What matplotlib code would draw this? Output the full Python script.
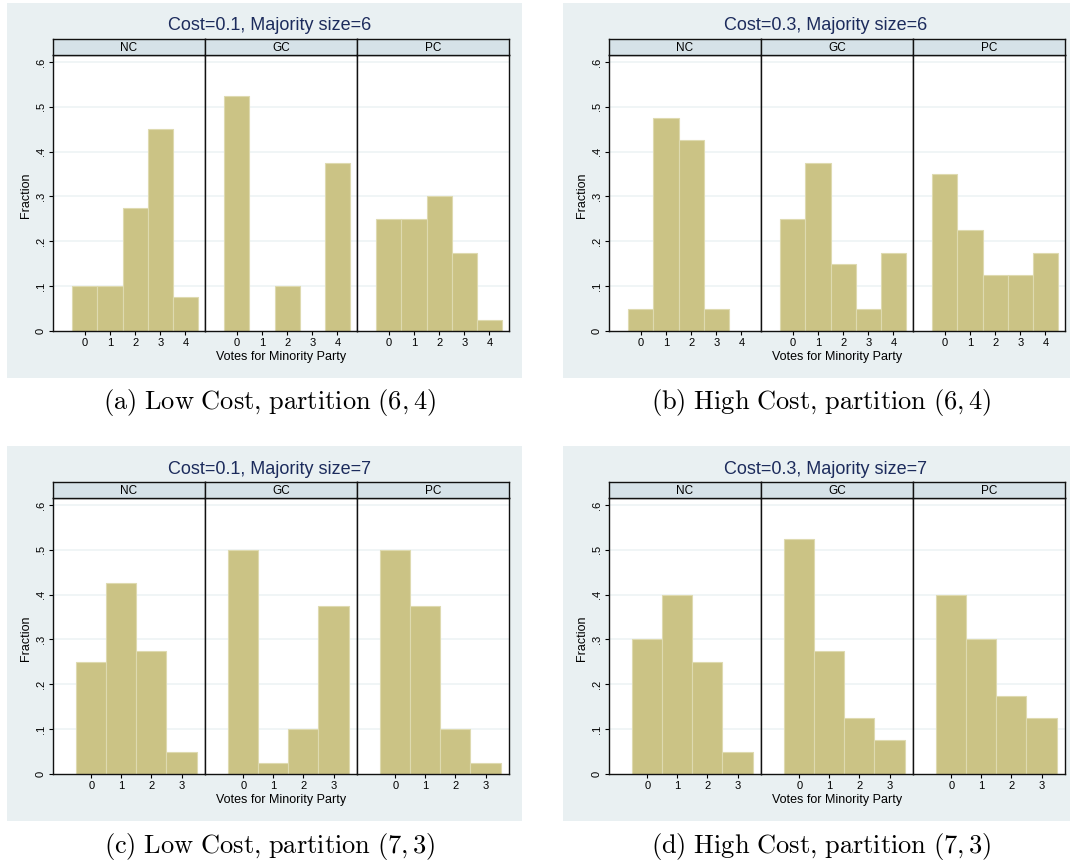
import matplotlib
matplotlib.use('Agg')
import matplotlib.pyplot as plt
from matplotlib.patches import Rectangle

plt.rcParams['font.family'] = ['Liberation Sans', 'DejaVu Sans']
plt.rcParams['mathtext.fontset'] = 'cm'

# data (fraction of votes for minority party)
groups = ['NC', 'GC', 'PC']
votes_6 = [0, 1, 2, 3, 4]
votes_7 = [0, 1, 2, 3]

low_6_nc = [0.1, 0.1, 0.275, 0.45, 0.075]
low_6_gc = [0.525, 0.0, 0.1, 0.0, 0.375]
low_6_pc = [0.25, 0.25, 0.3, 0.175, 0.025]

high_6_nc = [0.05, 0.475, 0.425, 0.05, 0.0]
high_6_gc = [0.25, 0.375, 0.15, 0.05, 0.175]
high_6_pc = [0.35, 0.225, 0.125, 0.125, 0.175]

low_7_nc = [0.25, 0.425, 0.275, 0.05]
low_7_gc = [0.5, 0.025, 0.1, 0.375]
low_7_pc = [0.5, 0.375, 0.1, 0.025]

high_7_nc = [0.3, 0.4, 0.25, 0.05]
high_7_gc = [0.525, 0.275, 0.125, 0.075]
high_7_pc = [0.4, 0.3, 0.175, 0.125]

titles = ['Cost=0.1, Majority size=6', 'Cost=0.3, Majority size=6',
          'Cost=0.1, Majority size=7', 'Cost=0.3, Majority size=7']
captions = [r'$\mathrm{(a)\ Low\ Cost{,}\ partition}\ (6,4)$',
            r'$\mathrm{(b)\ High\ Cost{,}\ partition}\ (6,4)$',
            r'$\mathrm{(c)\ Low\ Cost{,}\ partition}\ (7,3)$',
            r'$\mathrm{(d)\ High\ Cost{,}\ partition}\ (7,3)$']
yticks = [0, 0.1, 0.2, 0.3, 0.4, 0.5, 0.6]
ytick_labels = ['0', '.1', '.2', '.3', '.4', '.5', '.6']

panels = [
    (votes_6, [low_6_nc, low_6_gc, low_6_pc]),
    (votes_6, [high_6_nc, high_6_gc, high_6_pc]),
    (votes_7, [low_7_nc, low_7_gc, low_7_pc]),
    (votes_7, [high_7_nc, high_7_gc, high_7_pc]),
]

BG = '#E9F0F2'
STRIP = '#D6E2E8'
BAR = '#CBC385'
BAR_EDGE = '#DEDAB0'
GRID = '#EEF3F5'
NAVY = '#1C2B5C'

W, H = 1070, 864
fig = plt.figure(figsize=(W / 100, H / 100), dpi=100)


def fx(px):
    return px / W


def fy(py):
    return 1 - py / H


# pixel layout: (bg_left, bg_right, plot_left, plot_right) per column, y offset per row
cols = [(7, 522, 53, 509), (563, 1070, 609, 1065)]
rows = [0, 443]

for i, (votes, series) in enumerate(panels):
    bl, br, pl, pr = cols[i % 2]
    dy = rows[i // 2]
    fig.patches.append(Rectangle((fx(bl), fy(378 + dy)), (br - bl) / W, 375 / H,
                                 transform=fig.transFigure, facecolor=BG,
                                 edgecolor='none', zorder=-10))
    fw = (pr - pl) / 3
    n = len(votes)
    for k, (g, vals) in enumerate(zip(groups, series)):
        ax = fig.add_axes([fx(pl + k * fw), fy(331 + dy), fw / W, (331 - 55) / H])
        for yv in yticks[1:]:
            ax.axhline(yv, color=GRID, lw=1.2, zorder=0)
        xs = [v for v, h in zip(votes, vals) if h > 0]
        hs = [h for h in vals if h > 0]
        ax.bar(xs, hs, width=1.0, color=BAR, edgecolor=BAR_EDGE, linewidth=0.8, zorder=2)
        ax.set_xlim(-1.27, n - 0.22)
        ax.set_ylim(0, 0.6156)
        ax.set_xticks(votes)
        ax.set_xticklabels([str(v) for v in votes], fontsize=8)
        ax.tick_params(axis='x', length=3, width=0.8, pad=2)
        ax.set_yticks(yticks)
        if k == 0:
            ax.set_yticklabels(ytick_labels, rotation=90, va='center', fontsize=8)
            ax.tick_params(axis='y', length=3, width=0.8, pad=2)
        else:
            ax.tick_params(axis='y', left=False, labelleft=False)
        for s in ax.spines.values():
            s.set_color('#111111')
            s.set_linewidth(1.0)

        sax = fig.add_axes([fx(pl + k * fw), fy(55 + dy), fw / W, 16 / H])
        sax.set_facecolor(STRIP)
        sax.set_xticks([])
        sax.set_yticks([])
        for s in sax.spines.values():
            s.set_color('#111111')
            s.set_linewidth(1.0)
        sax.text(0.5, 0.45, g, ha='center', va='center', fontsize=8.5,
                 transform=sax.transAxes)

    fig.text(fx((pl + pr) / 2 - 11), fy(26 + dy), titles[i], ha='center', va='center',
             fontsize=13, color=NAVY)
    fig.text(fx(pl + 1.5 * fw), fy(357 + dy), 'Votes for Minority Party',
             ha='center', va='center', fontsize=9)
    fig.text(fx(pl - 27), fy(195 + dy), 'Fraction', rotation=90,
             ha='center', va='center', fontsize=9)
    fig.text(fx((bl + br) / 2 + 5), fy(403 + dy), captions[i], ha='center',
             va='center', fontsize=19)

fig.savefig('out.png', dpi=100, facecolor='white')
